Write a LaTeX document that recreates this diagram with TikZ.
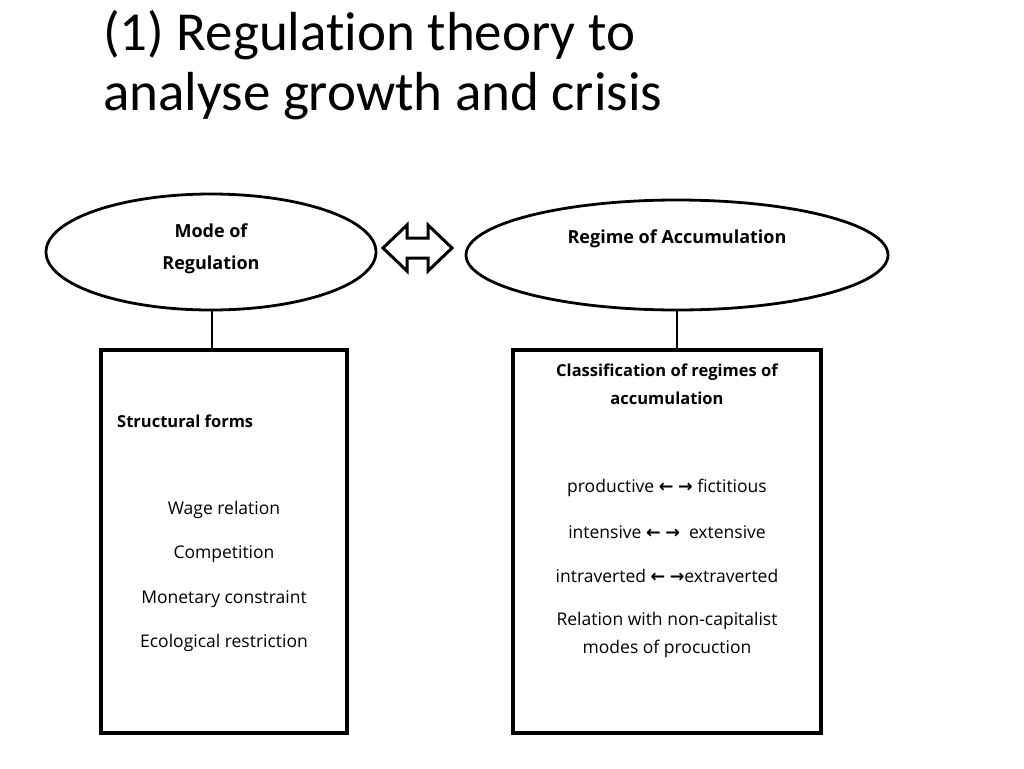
\documentclass[tikz,border=0pt]{standalone}
\usepackage{fontspec}
\setmainfont{Open Sans}
\newfontfamily\titlefont[Ligatures={NoCommon,NoRare,NoDiscretionary}]{Carlito}
\newfontfamily\symfont{DejaVu Sans}
\begin{document}
\begin{tikzpicture}[x=1pt,y=-1pt,
  box/.style={draw,line width=3.4pt},
  lbl/.style={font=\fontsize{17.5}{26}\selectfont,align=center},
  blbl/.style={font=\fontsize{18}{32}\selectfont\bfseries,align=center}]
\useasboundingbox (0,0) rectangle (1024,768);
\node[anchor=base west,font=\titlefont\fontsize{55}{60}\selectfont,inner sep=0] (title1) at (103,50) {(1) Regulation theory to};
\node[anchor=base west,font=\titlefont\fontsize{55}{60}\selectfont,inner sep=0] (title2) at (103,110) {analyse growth and crisis};
\draw[line width=2.8pt] (211,252) ellipse [x radius=165, y radius=58];
\draw[line width=2.8pt] (677,255) ellipse [x radius=211, y radius=55];
\node[blbl] (mode) at (211,249) {Mode of\\Regulation};
\node[blbl] (regime) at (677,239) {Regime of Accumulation};
\coordinate (ml) at (212,310); \coordinate (mb) at (212,350);
\coordinate (rl) at (677,310); \coordinate (rb) at (677,350);
\draw[line width=1.2pt] (ml) -- (mb);
\draw[line width=1.2pt] (rl) -- (rb);
\draw[line width=3pt,line join=miter] (383,248) -- (407,225) -- (407,238) -- (428,238) -- (428,225) -- (452,248) -- (428,271) -- (428,258) -- (407,258) -- (407,271) -- cycle;
\draw[box] (101,350) rectangle (347,733);
\draw[box] (513,350) rectangle (821,733);
\node[font=\fontsize{16.5}{27}\selectfont\bfseries,anchor=west,inner sep=0] (sf) at (117,421) {Structural forms};
\node[lbl] (w) at (224,510) {Wage relation};
\node[lbl] (c) at (224,554) {Competition};
\node[lbl] (m) at (224,599) {Monetary constraint};
\node[lbl] (e) at (224,643) {Ecological restriction};
\node[font=\fontsize{16.5}{28}\selectfont\bfseries,align=center] (cl) at (667,384) {Classification of regimes of\\accumulation};
\node[lbl] (p) at (667,488) {productive {\symfont\bfseries←} {\symfont\bfseries→} fictitious};
\node[lbl] (i) at (667,532) {intensive {\symfont\bfseries←} {\symfont\bfseries→}\ \ extensive};
\node[lbl] (iv) at (667,576) {intraverted {\symfont\bfseries←} {\symfont\bfseries→}extraverted};
\node[lbl,font=\fontsize{17.5}{28}\selectfont] (rel) at (667,635) {Relation with non-capitalist\\modes of procuction};
\end{tikzpicture}
\end{document}
